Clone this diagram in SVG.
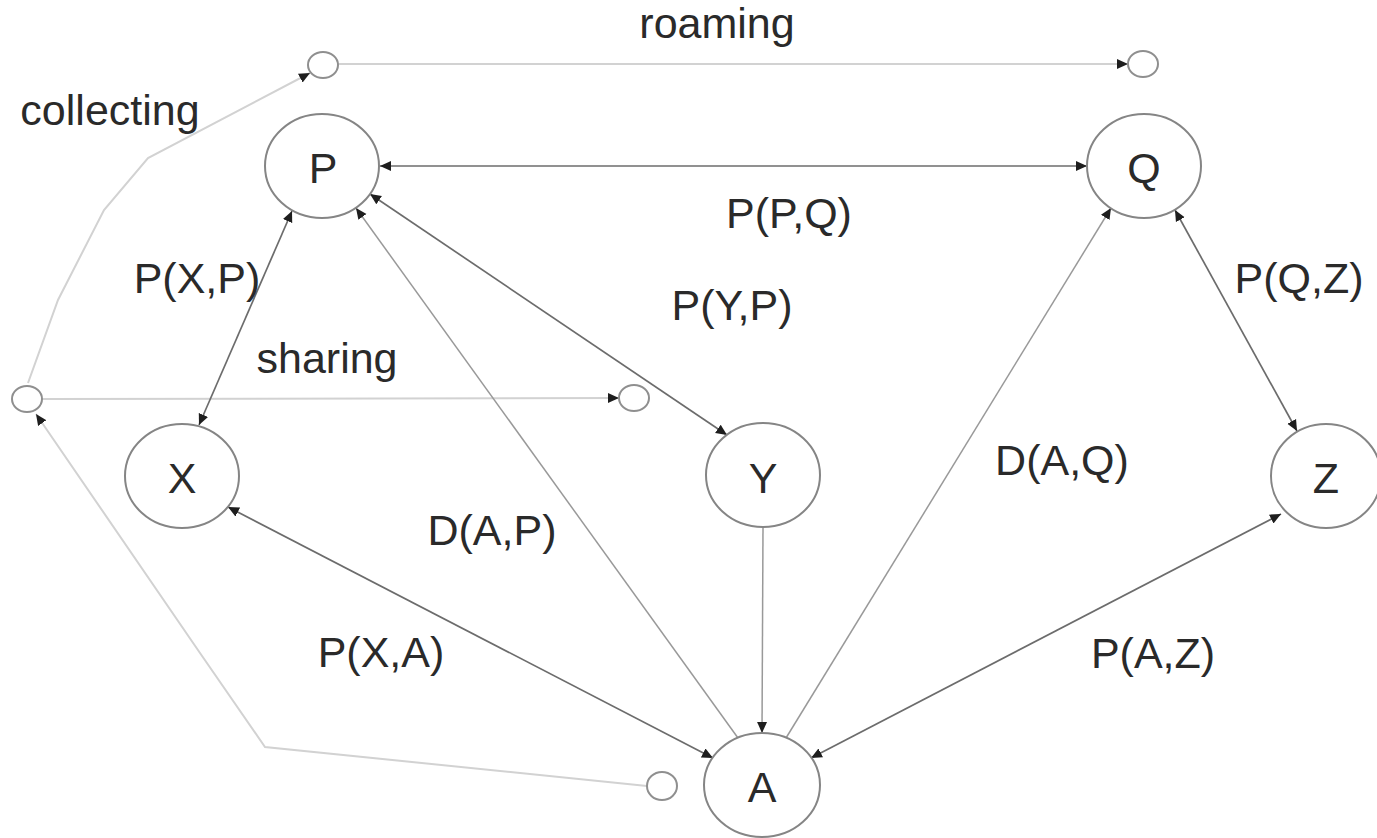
<svg xmlns="http://www.w3.org/2000/svg" width="1377" height="838" viewBox="0 0 1377 838">
<style>
  .node { fill: #ffffff; stroke: #858585; stroke-width: 2; }
  .small { fill: #ffffff; stroke: #8f8f8f; stroke-width: 2; }
  .lbl { font-family: "Liberation Sans", Arial, sans-serif; font-size: 43px; fill: #2a2a2a; text-anchor: middle; }
  .edge { fill: none; stroke: #6c6c6c; stroke-width: 1.7; }
  .dedge { fill: none; stroke: #999999; stroke-width: 1.5; }
  .light { fill: none; stroke: #d2d2d2; stroke-width: 2; }
</style>
<defs>
  <marker id="ah" markerUnits="userSpaceOnUse" markerWidth="12" markerHeight="11" refX="11" refY="5.5" orient="auto-start-reverse">
    <path d="M0,0.5 L11,5.5 L0,10.5 z" fill="#1e1e1e"/>
  </marker>
</defs>
<rect width="1377" height="838" fill="#ffffff"/>

<g id="connectors">
  <line class="light" x1="338" y1="64" x2="1128" y2="64" marker-end="url(#ah)"/>
  <line class="light" x1="42" y1="399" x2="619" y2="398" marker-end="url(#ah)"/>
  <polyline class="light" points="647,786 265,747 200,653 36,414" marker-end="url(#ah)"/>
  <polyline class="light" points="28,383 58,300 104,210 148,158 310,73" marker-end="url(#ah)"/>
  <line class="edge" x1="380" y1="166" x2="1087" y2="166" marker-start="url(#ah)" marker-end="url(#ah)"/>
  <line class="edge" x1="292" y1="211" x2="199" y2="425" marker-start="url(#ah)" marker-end="url(#ah)"/>
  <line class="edge" x1="370" y1="194" x2="727" y2="435" marker-start="url(#ah)" marker-end="url(#ah)"/>
  <line class="dedge" x1="738" y1="738" x2="356" y2="208" marker-end="url(#ah)"/>
  <line class="dedge" x1="786" y1="738" x2="1111" y2="208" marker-end="url(#ah)"/>
  <line class="edge" x1="1175" y1="210" x2="1297" y2="431" marker-start="url(#ah)" marker-end="url(#ah)"/>
  <line class="dedge" x1="763" y1="527" x2="762" y2="733" marker-end="url(#ah)"/>
  <line class="edge" x1="228" y1="507" x2="713" y2="758" marker-start="url(#ah)" marker-end="url(#ah)"/>
  <line class="edge" x1="1281" y1="514" x2="811" y2="758" marker-start="url(#ah)" marker-end="url(#ah)"/>
</g>

<g id="node-P"><ellipse class="node" cx="322" cy="166" rx="57" ry="52"/><text class="lbl" x="323" y="183">P</text></g>
<g id="node-Q"><ellipse class="node" cx="1144" cy="166" rx="57" ry="52"/><text class="lbl" x="1144" y="183">Q</text></g>
<g id="node-X"><ellipse class="node" cx="182" cy="476" rx="57" ry="52"/><text class="lbl" x="182" y="493">X</text></g>
<g id="node-Y"><ellipse class="node" cx="763" cy="475" rx="57" ry="52"/><text class="lbl" x="763" y="493">Y</text></g>
<g id="node-Z"><ellipse class="node" cx="1326" cy="476" rx="55" ry="52"/><text class="lbl" x="1326" y="493">Z</text></g>
<g id="node-A"><ellipse class="node" cx="762" cy="785" rx="58" ry="52"/><text class="lbl" x="762" y="802">A</text></g>

<g id="small-top-left"><ellipse class="small" cx="323" cy="65" rx="15" ry="13"/></g>
<g id="small-top-right"><ellipse class="small" cx="1143" cy="64" rx="15" ry="13"/></g>
<g id="small-left"><ellipse class="small" cx="27" cy="399" rx="15" ry="13"/></g>
<g id="small-mid"><ellipse class="small" cx="634" cy="398" rx="15" ry="13"/></g>
<g id="small-bottom"><ellipse class="small" cx="662" cy="786" rx="15" ry="14"/></g>

<g id="labels">
  <text class="lbl" x="717" y="38">roaming</text>
  <text class="lbl" x="110" y="125">collecting</text>
  <text class="lbl" x="197" y="293">P(X,P)</text>
  <text class="lbl" x="327" y="373">sharing</text>
  <text class="lbl" x="789" y="228">P(P,Q)</text>
  <text class="lbl" x="732" y="320">P(Y,P)</text>
  <text class="lbl" x="1299" y="293">P(Q,Z)</text>
  <text class="lbl" x="1062" y="475">D(A,Q)</text>
  <text class="lbl" x="492" y="545">D(A,P)</text>
  <text class="lbl" x="381" y="667">P(X,A)</text>
  <text class="lbl" x="1153" y="668">P(A,Z)</text>
</g>
</svg>
